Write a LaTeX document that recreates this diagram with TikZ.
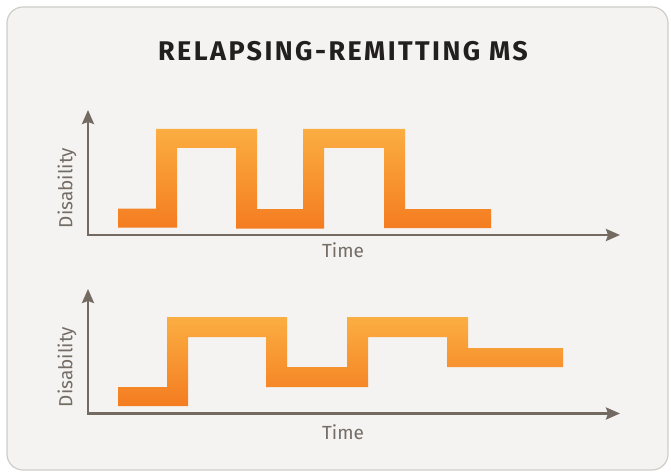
\documentclass[tikz,border=0pt]{standalone}
\usepackage{fontspec}
\setmainfont{Fira Sans}
\newfontfamily\titlefont[LetterSpace=9]{Fira Sans}
\usetikzlibrary{arrows.meta}
\definecolor{panelbg}{HTML}{F4F3F1}
\definecolor{panelrule}{HTML}{CFCDCA}
\definecolor{axisgray}{HTML}{736A62}
\definecolor{labelgray}{HTML}{746C65}
\definecolor{titleblack}{HTML}{231F20}
\definecolor{orangetop}{HTML}{FBAE42}
\definecolor{orangebot}{HTML}{F47C20}
\tikzset{
  panel/.style={fill=panelbg, draw=panelrule, line width=1.2pt, rounded corners=16pt},
  axisline/.style={draw=axisgray, line width=2.4pt, line join=miter,
    {Stealth[length=14pt,width=12pt,inset=2pt]}-{Stealth[length=14pt,width=12pt,inset=2pt]}},
  steptrace/.style={top color=orangetop, bottom color=orangebot, draw=none},
  axislabel/.style={text=labelgray, font=\fontsize{19}{22}\selectfont, inner sep=0pt},
  titletext/.style={text=titleblack, font=\titlefont\fontsize{27}{30}\selectfont\bfseries, inner sep=0pt}
}
\begin{document}
\begin{tikzpicture}[x=1pt,y=-1pt]
\useasboundingbox (0,0) rectangle (671,473);
\fill[white] (0,0) rectangle (671,473);
\path[panel] (7,7) rectangle (668,470);
\node[titletext] (title) at (343,51) {RELAPSING-REMITTING MS};
% top chart
\coordinate (o1) at (88,235);
\coordinate (y1) at (88,110);
\coordinate (x1) at (620,235);
\path[steptrace] (118,208.5) -- (156,208.5) -- (156,129) -- (257,129) -- (257,209) -- (303,209)
  -- (303,129) -- (405,129) -- (405,209) -- (491,209) -- (491,228) -- (384,228) -- (384,148)
  -- (324,148) -- (324,228.5) -- (236,228.5) -- (236,148) -- (177,148) -- (177,227.5) -- (118,227.5) -- cycle;
\draw[axisline] (y1) -- (o1) -- (x1);
\node[axislabel, rotate=90] (dis1) at (67,188) {Disability};
\node[axislabel] (time1) at (343,250) {Time};
% bottom chart
\coordinate (o2) at (88,413.5);
\coordinate (y2) at (88,289);
\coordinate (x2) at (620,413.5);
\path[steptrace] (118,387) -- (167,387) -- (167,317) -- (287,317) -- (287,367) -- (347,367)
  -- (347,317) -- (468,317) -- (468,348) -- (563,348) -- (563,367) -- (447,367) -- (447,337)
  -- (368,337) -- (368,387) -- (266,387) -- (266,337) -- (188,337) -- (188,406) -- (118,406) -- cycle;
\draw[axisline] (y2) -- (o2) -- (x2);
\node[axislabel, rotate=90] (dis2) at (67,367) {Disability};
\node[axislabel] (time2) at (343,432) {Time};
\end{tikzpicture}
\end{document}
